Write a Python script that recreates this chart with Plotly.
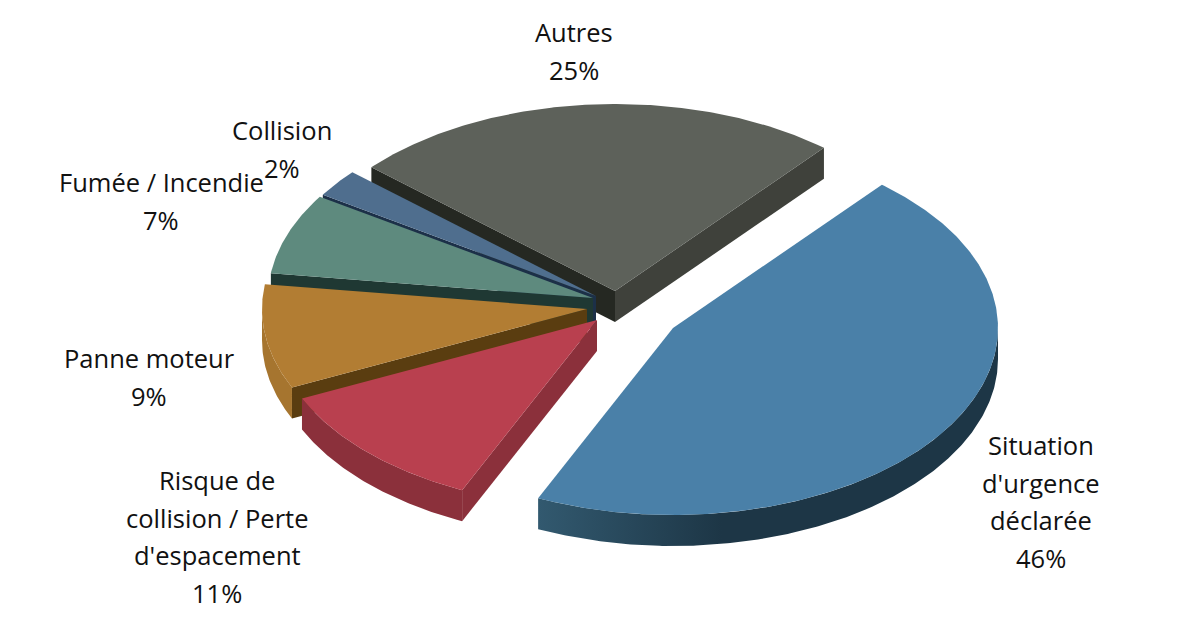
import numpy as np
import plotly.graph_objects as go

# Data
categories = ["Situation d'urgence déclarée", "Risque de collision / Perte d'espacement",
              "Panne moteur", "Fumée / Incendie", "Collision", "Autres"]
values = [45.7, 11.3, 9.0, 7.0, 2.4, 24.6]
label_lines = [["Situation", "d'urgence", "déclarée"], ["Risque de", "collision / Perte", "d'espacement"],
               ["Panne moteur"], ["Fumée / Incendie"], ["Collision"], ["Autres"]]

# Styles
top_colors = ["#4A80A8", "#B9404F", "#B27D33", "#5E8A7E", "#4F6E8E", "#5D615A"]
face_colors = ["#1D3646", "#8B303B", "#5A3D10", "#1F3833", "#1C3048", "#252822"]
end_colors = ["#1D3646", "#8B303B", "#5A3D10", "#1F3833", "#1C3048", "#3F413B"]
rim_grad = [["#32596F", "#1D3646"], ["#8B303B", "#8B303B"], ["#A6752F", "#A6752F"],
            ["#1F3833", "#1F3833"], ["#1C3048", "#1C3048"], ["#3F413B", "#3F413B"]]

# Projection layout (pixels of the 1200x634 canvas)
centers = [(673, 328), (597, 320), (587, 309), (593, 298), (596, 296), (615, 291)]
A, B, DEPTH = 325, 187, 31
START = 40.0
label_x = [1041, 217, 149, 161, 282, 574]
label_y = [445, 480, 358, 182, 130, 32]
LINE_STEP = 37.6
FONT = "Open Sans"
FONT_SIZE = 25.5


def pt(c, deg):
    r = np.radians(deg)
    return c[0] + A * np.sin(r), c[1] - B * np.cos(r)


def arc(c, a0, a1):
    t = np.linspace(a0, a1, max(int(abs(a1 - a0) * 2), 2))
    r = np.radians(t)
    return list(c[0] + A * np.sin(r)), list(c[1] - B * np.cos(r))


fig = go.Figure()


def poly(xs, ys, color=None, grad=None):
    kw = dict(fillcolor=color) if grad is None else dict(
        fillgradient=dict(type="horizontal", colorscale=[[0, grad[0]], [0.4, grad[1]], [1, grad[1]]]))
    fig.add_trace(go.Scatter(x=list(xs) + [xs[0]], y=list(ys) + [ys[0]], mode="lines", fill="toself",
                             line=dict(width=0), hoverinfo="skip", showlegend=False, **kw))


def cut(c, deg, color):
    x, y = pt(c, deg)
    poly([c[0], x, x, c[0]], [c[1], y, y + DEPTH, c[1] + DEPTH], color)


# angular spans from the values
total = sum(values)
spans, a = [], START
for v in values:
    spans.append((a, a + 360 * v / total))
    a = spans[-1][1]

# painter's order: back slices first, the front slice last
for i in [5, 4, 3, 2, 1, 0]:
    c = centers[i]
    a0, a1 = spans[i]
    # start cut is visible in the left half, end cut in the right half
    if np.sin(np.radians(a0)) < 0:
        cut(c, a0, face_colors[i])
    if np.sin(np.radians(a1)) > 0:
        cut(c, a1, end_colors[i])
    # outer wall: only the front half of the ellipse
    r0, r1 = max(a0, 90), min(a1, 270)
    if r1 > r0:
        ax, ay = arc(c, r0, r1)
        poly(ax + ax[::-1], ay + [q + DEPTH for q in ay[::-1]], grad=rim_grad[i])
    ax, ay = arc(c, a0, a1)
    poly([c[0]] + ax, [c[1]] + ay, top_colors[i])

# Labels, one annotation per line
for i in range(len(values)):
    lines = label_lines[i] + [f"{round(values[i])}%"]
    for k, s in enumerate(lines):
        fig.add_annotation(x=label_x[i], y=label_y[i] + k * LINE_STEP, text=s, showarrow=False,
                           xanchor="center", yanchor="middle",
                           font=dict(family=FONT, size=FONT_SIZE, color="#111111"))

fig.update_layout(width=1200, height=634, margin=dict(l=0, r=0, t=0, b=0),
                  paper_bgcolor="white", plot_bgcolor="white", showlegend=False,
                  xaxis=dict(range=[0, 1200], visible=False, fixedrange=True),
                  yaxis=dict(range=[634, 0], visible=False, fixedrange=True))
fig.write_html("out.html", config={"displayModeBar": False},
               post_script="document.body.style.margin='0';document.body.style.overflow='hidden';")
